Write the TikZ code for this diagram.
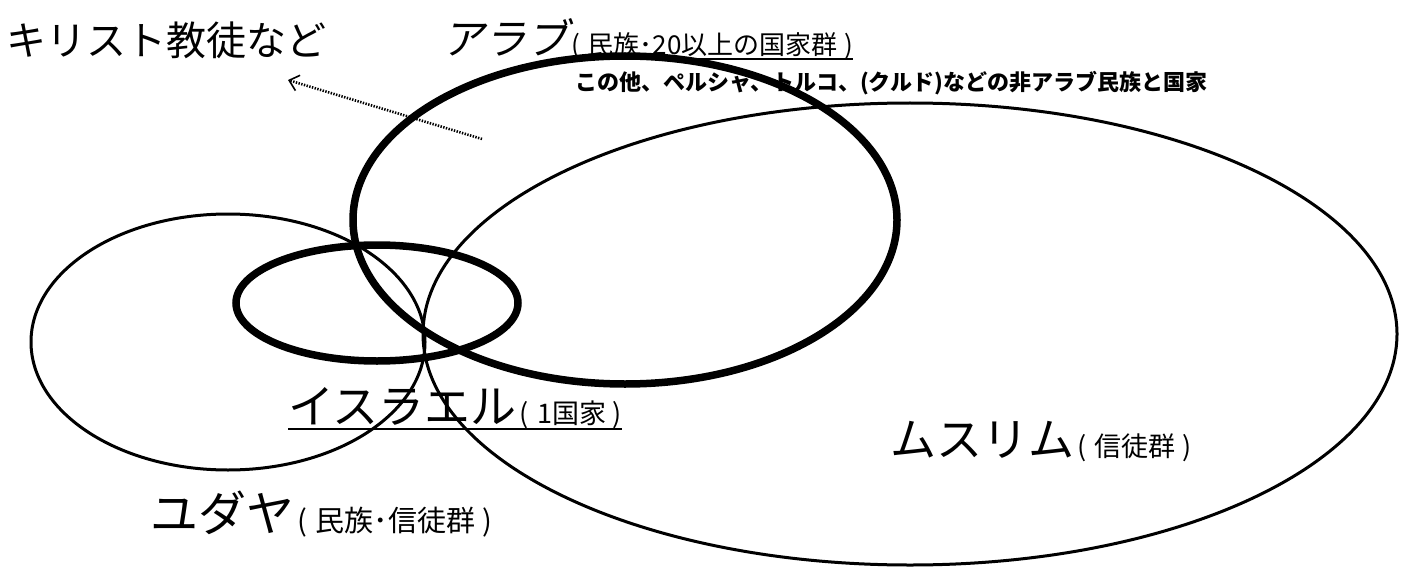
\documentclass[tikz,border=0pt]{standalone}
\usepackage{fontspec}
\setmainfont{Noto Sans CJK JP}
\newfontfamily\jpslant[FakeSlant=0.22]{Noto Sans CJK JP}
\usetikzlibrary{arrows.meta}
\tikzset{
  thinell/.style={draw=black, line width=3pt},
  thickell/.style={draw=black, line width=7.5pt},
  lbl/.style={inner sep=0pt, outer sep=0pt, anchor=base west, text=black},
  uline/.style={draw=black, line width=2pt},
  dotarrow/.style={draw=black, line width=2.6pt, dash pattern=on 1.4pt off 1.4pt,
    -{Straight Barb[length=9pt,width=16pt,line width=1.6pt]}}
}
\newcommand{\fs}[1]{\fontsize{#1}{#1}\selectfont}
\newcommand{\lp}{\hspace{0.12em}(\hspace{0.3em}}
\newcommand{\rp}{\hspace{0.25em})}
\begin{document}
\begin{tikzpicture}[x=1pt,y=-1pt]
\useasboundingbox (0,0) rectangle (1405,567);
\fill[white] (0,0) rectangle (1405,567);

% ellipses
\draw[thinell]  (228,342) ellipse [x radius=197, y radius=128];   % Judea
\draw[thinell]  (910,334) ellipse [x radius=487, y radius=231];   % Muslim
\draw[thickell] (625,220) ellipse [x radius=272, y radius=164];   % Arab
\draw[thickell] (377,303) ellipse [x radius=141, y radius=58];    % Israel

% labels
\node[lbl] (christ) at (6,56) {\fs{40}キリスト教徒など};
\node[lbl] (arab) at (442,55) {\fs{42}\jpslant アラブ};
\node[lbl] (arabsub) at (arab.base east) {\fs{26}\lp 民族･20以上の国家群\rp};
\draw[uline] ([yshift=-4pt]arabsub.base west) -- ([yshift=-4pt]arabsub.base east);
\node[lbl] (other) at (575,91) {\fs{22}\bfseries この他、ペルシャ、トルコ、(クルド)などの非アラブ民族と国家};
\node[lbl] (israel) at (288,423) {\fs{46}イスラエル\fs{27}\lp 1国家\rp};
\draw[uline] ([yshift=-6pt]israel.base west) -- ([yshift=-6pt]israel.base east);
\node[lbl] (judea) at (150,531) {\fs{48}ユダヤ\fs{29}\lp 民族･信徒群\rp};
\node[lbl] (muslim) at (890,456) {\fs{46}ムスリム\fs{27}\lp 信徒群\rp};

% dotted arrow
\coordinate (arrtail) at (482,139);
\coordinate (arrhead) at (288,80);
\draw[dotarrow] (arrtail) -- (arrhead);
\end{tikzpicture}
\end{document}
